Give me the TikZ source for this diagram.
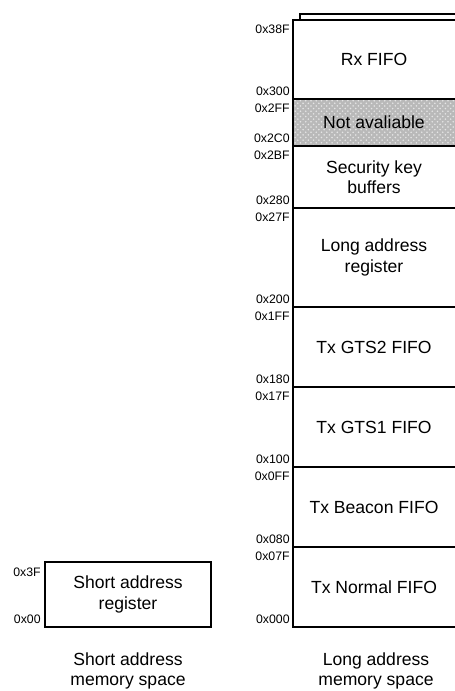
\documentclass[tikz,border=0pt]{standalone}
\usepackage{fontspec}
\setmainfont{Liberation Sans}
\usetikzlibrary{patterns, positioning}

\begin{document}
\begin{tikzpicture}[x=0.02cm, y=-0.02cm,
        blocktext/.style={font=\fontsize{10}{11.5}\selectfont, align=center},
        addr/.style={font=\fontsize{7}{8}\selectfont, inner sep=0pt},
        caption/.style={font=\fontsize{10}{11.5}\selectfont, align=center},
        memline/.style={line width=0.8pt}]
        % Define dimensions
        \def\colleft{293}
        \def\colright{460}
        \useasboundingbox (0,0) rectangle (455,691);
        \clip (0,0) rectangle (455,691);
        % Long address memory space
        \draw[memline] (300,20) -- (300,14) -- (\colright,14);
        \fill[gray!55] (\colleft,99) rectangle (\colright,146);
        \fill[pattern=crosshatch dots, pattern color=gray!20] (\colleft,99) rectangle (\colright,146);
        \foreach \top/\bot/\name/\txt/\hi/\lo in {
            20/99/rx/{Rx FIFO}/0x38F/0x300,
            99/146/na/{Not avaliable}/0x2FF/0x2C0,
            146/208/seckey/{Security key\\buffers}/0x2BF/0x280,
            208/307/longreg/{Long address\\register}/0x27F/0x200,
            307/387/gtstwo/{Tx GTS2 FIFO}/0x1FF/0x180,
            387/467/gtsone/{Tx GTS1 FIFO}/0x17F/0x100,
            467/547/beacon/{Tx Beacon FIFO}/0x0FF/0x080,
            547/627/normal/{Tx Normal FIFO}/0x07F/0x000}
        {
            \draw[memline] (\colleft,\top) rectangle (\colright,\bot);
            \node[blocktext] (\name) at (374,{(\top+\bot)/2}) {\txt};
            \node[addr, anchor=east] (\name-hi) at (290,\top+9) {\hi};
            \node[addr, anchor=east] (\name-lo) at (290,\bot-8) {\lo};
        }
        % Short address memory space
        \draw[memline] (45,562) rectangle (211,627);
        \node[blocktext] (shortreg) at (128,594.5) {Short address\\register};
        \node[addr, anchor=east] (shortreg-hi) at (41,572) {0x3F};
        \node[addr, anchor=east] (shortreg-lo) at (41,619) {0x00};
        % Captions
        \node[caption] (shortcap) at (128,671) {Short address\\memory space};
        \node[caption] (longcap) at (376,671) {Long address\\memory space};
    \end{tikzpicture}
\end{document}
